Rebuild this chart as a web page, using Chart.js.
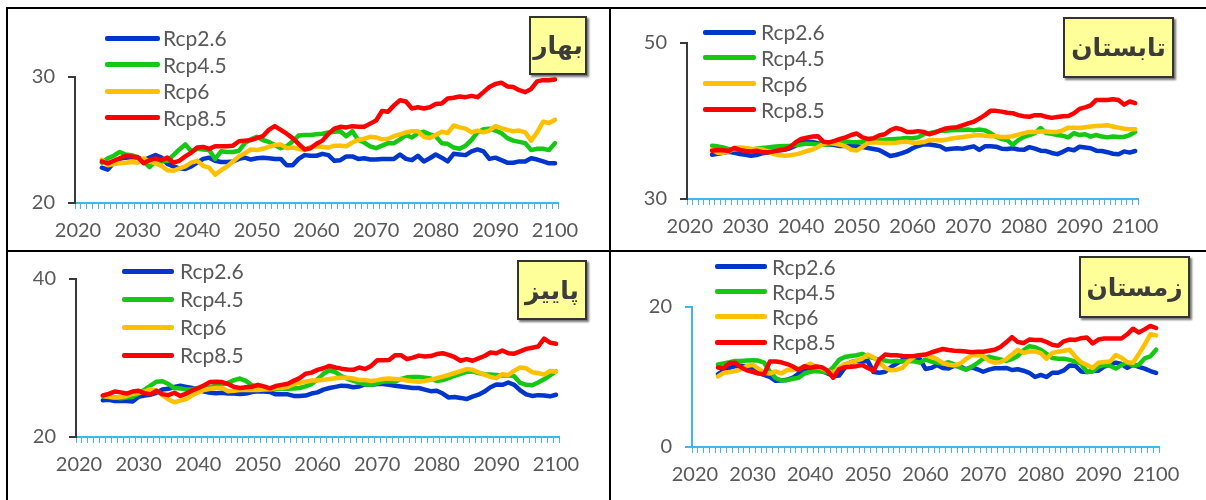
<!DOCTYPE html>
<html>
<head>
<meta charset="utf-8">
<script src="https://cdn.jsdelivr.net/npm/chart.js@4.4.1/dist/chart.umd.min.js"></script>
<style>
  html, body { margin: 0; padding: 0; background: #fff; }
  #page { position: relative; width: 1206px; height: 500px; overflow: hidden; background: #fff; }
  .rule { position: absolute; background: #000; }
  .panel { position: absolute; }
  .legend-item { position: absolute; display: flex; align-items: center; height: 24px; line-height: 24px;
                 font-family: Lato, "Open Sans", sans-serif; font-size: 21px; color: #595959; white-space: nowrap; }
  .legend-item .swatch { display: inline-block; height: 5px; border-radius: 2px; }
  .season { position: absolute; box-sizing: border-box; background: #FFFF99; border: 2px solid #333;
            box-shadow: 2px 2px 2px rgba(0,0,0,0.55); font-family: "DejaVu Sans", sans-serif; font-weight: bold;
            font-size: 25px; color: #3c3c3c; display: flex; align-items: center; justify-content: center; direction: rtl; }
</style>
</head>
<body>
<div id="page">
  <div class="rule" style="left:6px;top:7px;width:1200px;height:2px"></div>
  <div class="rule" style="left:6px;top:7px;width:2px;height:493px"></div>
  <div class="rule" style="left:609px;top:7px;width:2px;height:493px"></div>
  <div class="rule" style="left:6px;top:250px;width:1200px;height:2px"></div>

  <canvas id="spring" class="panel"></canvas>
  <canvas id="summer" class="panel"></canvas>
  <canvas id="autumn" class="panel"></canvas>
  <canvas id="winter" class="panel"></canvas>

  <div class="season" style="left:529px;top:16px;width:58px;height:59px">بهار</div>
  <div class="season" style="left:1063px;top:17px;width:111px;height:61px">تابستان</div>
  <div class="season" style="left:517px;top:260px;width:70px;height:60px">پاییز</div>
  <div class="season" style="left:1079px;top:256px;width:111px;height:62px">زمستان</div>
</div>

<script>
// Category axis: every year from 2020 to 2100, labelled each decade
const years = [];
for (let y = 2020; y <= 2100; y++) years.push(String(y));
const firstDataYear = 2024;

const scenarioNames = ['Rcp2.6', 'Rcp4.5', 'Rcp6', 'Rcp8.5'];
const scenarioColors = ['#0036CC', '#14C814', '#FFC000', '#FF0000'];

// Spring (بهار), 2024-2100
const springRcp26 = [22.8,22.65,23.2,23.5,23.6,23.65,23.6,23.4,23.6,23.8,
  23.6,23.1,22.9,22.75,22.7,22.9,23.2,23.5,23.6,23.35,
  23.25,23.25,23.3,23.5,23.6,23.45,23.55,23.6,23.55,23.5,
  23.5,23.0,23.0,23.5,23.8,23.75,23.75,23.9,23.8,23.35,
  23.4,23.7,23.7,23.5,23.55,23.45,23.45,23.5,23.5,23.5,
  23.85,23.5,23.4,23.75,23.3,23.55,23.85,23.6,23.3,23.9,
  23.85,23.8,24.1,24.25,24.1,23.5,23.6,23.4,23.2,23.2,
  23.3,23.3,23.55,23.45,23.3,23.15,23.15];
const springRcp45 = [23.2,23.55,23.75,24.05,23.85,23.8,23.6,23.3,22.85,23.3,
  23.3,23.35,23.8,24.25,24.65,24.1,24.3,24.25,24.2,23.5,
  24.1,24.05,24.05,24.15,24.75,25.05,25.25,25.0,24.85,24.6,
  24.35,24.5,24.9,25.35,25.4,25.4,25.45,25.5,25.6,25.65,
  25.7,25.3,25.7,25.0,24.8,24.5,24.35,24.55,24.75,24.75,
  25.05,25.4,25.2,25.55,25.65,25.45,25.3,24.75,24.7,24.4,
  24.3,24.55,25.0,25.6,25.85,25.9,25.75,25.55,25.15,24.95,
  24.85,24.75,24.2,24.3,24.3,24.2,24.75];
const springRcp6 = [23.45,23.0,23.1,23.15,23.2,23.25,23.2,23.55,23.3,23.15,
  22.95,22.6,22.55,22.75,22.9,23.2,23.35,22.95,22.8,22.25,
  22.6,22.9,23.3,23.7,23.95,24.25,24.2,24.3,24.45,24.6,
  24.65,24.35,24.4,24.3,24.2,24.45,24.5,24.45,24.4,24.55,
  24.55,24.5,24.8,25.0,25.1,25.25,25.2,25.05,25.1,25.3,
  25.45,25.6,25.7,25.7,25.25,25.15,25.4,25.65,25.55,26.15,
  26.0,25.9,25.6,25.75,25.6,25.75,26.1,25.95,25.8,25.7,
  25.75,25.6,24.95,25.6,26.45,26.35,26.6];
const springRcp85 = [23.3,23.15,23.35,23.55,23.75,23.7,23.65,23.15,23.4,23.55,
  23.4,23.6,23.2,23.35,23.7,24.0,24.4,24.45,24.3,24.5,
  24.5,24.5,24.55,24.9,24.95,25.0,25.15,25.3,25.8,26.1,
  25.8,25.5,25.15,24.7,24.25,24.35,24.7,24.95,25.5,25.9,
  26.05,26.0,26.1,26.05,26.05,26.3,26.55,27.3,27.25,27.75,
  28.15,28.05,27.5,27.6,27.5,27.6,27.85,27.9,28.3,28.35,
  28.45,28.4,28.5,28.4,28.8,29.2,29.45,29.55,29.25,29.2,
  28.95,28.8,29.05,29.65,29.75,29.75,29.8];

// Summer (تابستان), 2024-2100
const summerRcp26 = [35.68,35.8,35.93,36.05,35.93,35.77,35.68,35.55,35.64,35.85,
  35.97,36.05,36.23,36.32,36.5,36.83,37.18,37.35,37.3,37.14,
  37.05,37.0,36.92,36.8,36.83,36.8,36.75,36.66,36.53,36.4,
  36.28,35.9,35.51,35.64,35.85,36.1,36.5,36.8,37.0,37.0,
  36.9,36.75,36.35,36.45,36.5,36.45,36.6,36.75,36.3,36.75,
  36.75,36.7,36.45,36.4,36.5,36.35,36.3,36.65,36.45,36.2,
  36.15,35.9,35.75,36.05,36.4,36.25,36.7,36.6,36.5,36.2,
  36.15,36.0,35.8,35.75,36.1,35.95,36.15];
const summerRcp45 = [36.83,36.75,36.6,36.4,36.32,36.36,36.36,36.32,36.45,36.53,
  36.62,36.7,36.75,36.8,36.83,36.92,37.0,37.1,37.05,37.0,
  36.96,37.0,37.1,37.2,37.39,37.3,37.27,37.35,37.39,37.47,
  37.52,37.6,37.65,37.7,37.75,37.82,37.8,37.9,38.3,38.45,
  38.6,38.75,38.75,38.8,38.85,38.85,38.9,38.8,38.9,38.8,
  38.45,38.0,37.7,37.55,36.95,37.55,37.95,38.2,38.45,39.1,
  38.45,38.35,38.2,38.1,37.9,38.45,38.2,38.3,38.0,38.2,
  38.0,37.9,38.0,37.95,37.95,38.2,38.6];
const summerRcp6 = [36.32,35.93,35.93,36.1,36.5,36.62,36.53,36.45,36.4,36.36,
  36.1,35.77,35.64,35.55,35.6,35.72,35.9,36.15,36.32,36.66,
  37.05,37.26,37.1,36.96,36.75,36.32,36.23,36.66,37.18,37.26,
  37.22,37.18,37.18,37.22,37.3,37.35,37.2,37.2,37.3,37.55,
  37.55,37.5,37.6,37.75,37.85,37.95,38.05,38.15,38.2,38.1,
  38.05,38.05,37.95,37.95,38.05,38.25,38.45,38.6,38.6,38.65,
  38.65,38.6,38.6,38.8,39.15,39.15,39.1,39.2,39.3,39.35,
  39.4,39.45,39.3,39.15,39.0,38.95,38.95];
const summerRcp85 = [36.2,36.28,36.25,36.15,36.55,36.3,36.15,36.1,36.2,36.0,
  36.0,36.1,36.25,36.36,36.65,37.25,37.7,37.85,38.0,38.05,
  37.35,37.25,37.45,37.7,37.9,38.2,38.4,37.9,37.7,37.8,
  38.15,38.3,38.8,39.1,38.95,38.6,38.6,38.7,38.6,38.3,
  38.5,38.8,39.05,39.15,39.2,39.45,39.7,39.9,40.3,40.75,
  41.3,41.3,41.2,41.05,41.0,40.75,40.6,40.55,40.75,40.75,
  40.55,40.4,40.5,40.6,40.65,41.0,41.55,41.75,42.0,42.7,
  42.7,42.7,42.8,42.7,42.1,42.5,42.3];

// Autumn (پاییز), 2024-2100
const autumnRcp26 = [24.65,24.7,24.55,24.6,24.55,24.5,25.1,25.25,25.35,25.6,
  26.0,26.1,26.35,26.5,26.35,26.2,26.0,25.75,25.6,25.55,
  25.6,25.5,25.5,25.45,25.5,25.7,25.8,25.75,25.7,25.4,
  25.4,25.4,25.2,25.2,25.25,25.5,25.65,26.0,26.2,26.35,
  26.5,26.45,26.3,26.4,26.65,26.6,26.7,26.7,26.6,26.5,
  26.4,26.3,26.2,26.2,26.0,25.8,25.85,25.5,25.0,25.05,
  24.95,24.8,25.1,25.35,25.75,26.3,26.65,26.6,26.9,26.6,
  25.9,25.4,25.2,25.3,25.25,25.15,25.35];
const autumnRcp45 = [25.2,25.05,25.0,24.9,25.0,25.1,25.5,26.0,26.5,27.0,
  27.05,26.7,26.2,26.15,26.0,26.05,26.2,26.25,26.3,26.5,
  26.7,26.85,27.2,27.4,27.1,26.55,26.35,26.2,26.05,26.05,
  26.1,26.1,26.15,26.2,26.4,26.7,27.3,28.0,28.45,28.2,
  27.7,27.4,27.1,26.9,26.65,26.6,26.8,27.0,27.05,27.0,
  27.35,27.55,27.6,27.6,27.5,27.4,27.1,27.2,27.45,27.75,
  28.0,28.25,28.3,28.1,27.95,27.9,27.85,27.8,27.8,27.7,
  26.85,26.6,26.55,26.9,27.3,27.8,28.3];
const autumnRcp6 = [25.2,25.1,25.0,25.05,25.2,25.45,25.6,25.75,26.05,25.9,
  25.3,24.75,24.4,24.6,24.8,25.3,25.65,25.95,26.1,26.2,
  26.2,25.8,25.85,25.95,25.95,25.95,25.95,26.0,26.05,26.2,
  26.2,26.35,26.7,26.85,27.0,27.15,27.15,27.25,27.35,27.45,
  27.5,27.5,27.4,27.2,27.2,27.1,27.2,27.35,27.4,27.35,
  27.3,27.15,27.05,27.0,27.1,27.25,27.45,27.65,27.85,28.1,
  28.35,28.6,28.5,28.2,27.9,27.6,27.45,27.95,27.85,28.4,
  28.8,28.7,28.2,28.1,27.9,28.35,28.25];
const autumnRcp85 = [25.25,25.45,25.75,25.65,25.5,25.75,25.85,25.55,25.4,25.85,
  25.4,25.3,25.6,25.2,25.5,25.9,26.2,26.55,26.95,27.0,
  26.95,26.7,26.35,26.2,26.3,26.35,26.6,26.4,26.15,26.45,
  26.6,26.75,27.1,27.45,28.0,28.15,28.5,28.7,29.0,28.8,
  28.65,28.55,28.5,28.8,28.6,29.0,29.7,29.7,29.75,30.35,
  30.35,29.85,30.05,30.3,30.2,30.25,30.5,30.6,30.4,30.1,
  29.65,29.85,29.65,29.95,30.25,30.7,30.6,30.95,30.6,30.55,
  30.85,31.15,31.3,31.45,32.45,31.95,31.8];

// Winter (زمستان), 2024-2100
const winterRcp26 = [10.4,10.9,11.3,11.55,11.6,11.45,11.15,10.7,10.3,10.0,
  9.45,9.5,9.6,9.9,10.5,10.95,11.1,11.05,10.9,10.5,
  10.15,10.2,11.3,12.1,12.3,12.2,12.3,10.7,10.6,10.75,
  11.4,11.9,12.45,12.5,12.45,12.6,11.15,11.3,11.7,11.3,
  11.2,11.6,11.5,11.1,11.4,11.1,10.75,11.05,11.25,11.25,
  11.3,11.0,11.1,10.9,10.6,10.0,10.3,10.0,10.6,10.6,
  10.95,11.65,11.6,10.8,10.7,10.85,10.9,11.5,11.75,12.05,
  11.85,11.3,11.75,11.45,11.2,10.85,10.6];
const winterRcp45 = [11.8,11.95,12.1,12.3,12.3,12.35,12.4,12.35,12.05,10.8,
  9.85,9.5,9.55,9.75,9.9,10.5,10.75,10.85,10.75,10.65,
  11.4,12.45,12.85,13.0,13.1,13.3,12.95,12.7,12.45,12.35,
  12.2,12.3,12.2,12.3,12.25,12.05,12.5,12.2,12.05,11.9,
  12.1,11.8,11.35,11.05,11.45,12.0,12.6,12.9,12.7,12.5,
  12.3,12.55,13.0,13.8,14.4,14.25,13.9,13.3,12.7,12.6,
  12.6,12.45,12.2,11.9,10.7,10.8,11.5,11.7,11.6,11.2,
  11.7,12.1,11.6,11.75,12.65,12.95,13.9];
const winterRcp6 = [10.1,10.6,10.7,10.85,11.1,11.55,11.75,11.2,10.6,10.5,
  10.8,10.5,11.0,11.0,11.2,11.5,11.9,11.5,11.25,10.85,
  10.6,11.3,11.85,12.1,12.35,12.6,13.2,12.8,12.1,11.3,
  10.95,11.05,11.3,12.2,12.9,13.15,13.1,12.9,12.55,12.0,
  11.75,11.65,11.9,12.55,13.1,13.15,13.0,12.3,12.05,12.15,
  12.55,13.2,13.9,13.45,13.65,13.65,13.4,12.6,13.45,13.6,
  13.75,13.9,12.9,12.1,11.7,11.3,12.05,12.15,12.2,13.15,
  12.75,12.1,12.05,13.3,14.6,16.1,15.95];
const winterRcp85 = [11.35,11.25,12.0,12.05,11.4,10.95,10.75,10.5,10.4,12.2,
  12.2,12.1,11.85,11.5,11.0,11.55,11.3,11.5,11.4,10.9,
  9.9,11.1,11.4,11.45,11.55,11.7,11.3,10.9,12.5,13.2,
  13.1,13.1,13.0,12.95,13.0,13.1,13.2,13.5,13.75,14.0,
  13.85,13.75,13.7,13.65,13.55,13.6,13.6,13.75,13.9,14.3,
  14.95,15.7,15.0,14.85,15.35,15.3,15.3,15.0,14.6,14.45,
  15.1,15.35,15.3,15.55,15.65,14.8,15.35,15.5,15.5,15.5,
  15.5,16.1,16.9,16.35,16.8,17.3,17.0];

const SKY = '#3FB7EC';
const AXIS_DARK = '#3a3a3a';
const TEXT = '#595959';
const FONT = 'Lato, "Open Sans", sans-serif';

// Series before the first simulated year are left empty
function alignToYears(values) {
  const lead = years.indexOf(String(firstDataYear));
  return new Array(lead).fill(null).concat(values);
}

function buildPanel(id, box, area, yMin, yMax, yAxisColor, seriesList, legendPos) {
  const canvas = document.getElementById(id);
  canvas.width = box.w;
  canvas.height = box.h;
  canvas.style.left = box.x + 'px';
  canvas.style.top = box.y + 'px';

  const datasets = seriesList.map((vals, i) => ({
    label: scenarioNames[i],
    data: alignToYears(vals),
    borderColor: scenarioColors[i],
    backgroundColor: scenarioColors[i],
    order: seriesList.length - 1 - i
  }));

  const chart = new Chart(canvas, {
    type: 'line',
    data: { labels: years, datasets },
    options: {
      responsive: false,
      animation: false,
      devicePixelRatio: 1,
      layout: { padding: { left: 0, top: area.top - box.y, right: box.x + box.w - area.right, bottom: 0 } },
      plugins: { legend: { display: false }, tooltip: { enabled: false } },
      elements: {
        point: { radius: 0, hoverRadius: 0 },
        line: { borderWidth: 4.5, tension: 0, borderJoinStyle: 'round', borderCapStyle: 'round', fill: false }
      },
      scales: {
        x: {
          type: 'category',
          offset: true,
          grid: { offset: true, drawOnChartArea: false, drawTicks: true, tickLength: 6, color: SKY, lineWidth: 1 },
          border: { display: true, color: SKY, width: 2 },
          ticks: {
            autoSkip: false, maxRotation: 0, minRotation: 0, padding: 10,
            color: TEXT, font: { family: FONT, size: 20 },
            callback: function (value) {
              const yr = Number(this.getLabelForValue(value));
              return yr % 10 === 0 ? String(yr) : '';
            }
          },
          afterFit: s => { s.height = box.y + box.h - area.bottom; }
        },
        y: {
          min: yMin, max: yMax,
          grid: { drawOnChartArea: false, drawTicks: true, tickLength: 7, color: yAxisColor, lineWidth: 2 },
          border: { display: true, color: yAxisColor, width: 2 },
          ticks: { padding: 13, color: TEXT, font: { family: FONT, size: 20 } },
          // only the two ends of the range are marked
          afterBuildTicks: s => { s.ticks = [{ value: yMin }, { value: yMax }]; },
          afterFit: s => { s.width = area.left - box.x; }
        }
      }
    }
  });

  // Vertical legend, one row per scenario, built from the chart's own datasets
  const page = document.getElementById('page');
  chart.data.datasets.forEach((ds, i) => {
    const row = document.createElement('div');
    row.className = 'legend-item';
    row.style.left = legendPos.x + 'px';
    row.style.top = (legendPos.y0 + i * legendPos.dy - 12.5) + 'px';
    const sw = document.createElement('span');
    sw.className = 'swatch';
    sw.style.width = legendPos.w + 'px';
    sw.style.marginRight = legendPos.gap + 'px';
    sw.style.background = ds.borderColor;
    row.appendChild(sw);
    row.appendChild(document.createTextNode(ds.label));
    page.appendChild(row);
  });
  return chart;
}

buildPanel('spring',
  { x: 12, y: 12, w: 590, h: 236 },
  { left: 75, right: 558, top: 77, bottom: 203 },
  20, 30, AXIS_DARK,
  [springRcp26, springRcp45, springRcp6, springRcp85],
  { x: 105, w: 55, gap: 3, y0: 38.5, dy: 26.6 });

buildPanel('summer',
  { x: 614, y: 12, w: 590, h: 236 },
  { left: 687, right: 1138, top: 43, bottom: 199 },
  30, 50, AXIS_DARK,
  [summerRcp26, summerRcp45, summerRcp6, summerRcp85],
  { x: 703, w: 53, gap: 5, y0: 32.5, dy: 25.9 });

buildPanel('autumn',
  { x: 12, y: 254, w: 590, h: 244 },
  { left: 76, right: 559, top: 275, bottom: 437 },
  20, 40, AXIS_DARK,
  [autumnRcp26, autumnRcp45, autumnRcp6, autumnRcp85],
  { x: 122, w: 52, gap: 6, y0: 271.5, dy: 28.1 });

buildPanel('winter',
  { x: 614, y: 254, w: 590, h: 244 },
  { left: 692, right: 1159, top: 307, bottom: 447 },
  0, 20, SKY,
  [winterRcp26, winterRcp45, winterRcp6, winterRcp85],
  { x: 715, w: 52, gap: 5, y0: 267, dy: 25.2 });
</script>
</body>
</html>
